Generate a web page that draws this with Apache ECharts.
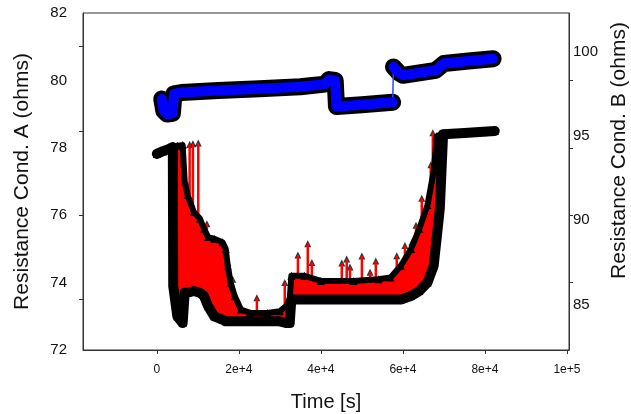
<!DOCTYPE html>
<html>
<head>
<meta charset="utf-8">
<title>Resistance</title>
<script src="https://cdn.jsdelivr.net/npm/echarts@6/dist/echarts.min.js"></script>
<style>
  html, body { margin: 0; padding: 0; background: #fff; }
  #chart { width: 631px; height: 414px; }
</style>
</head>
<body>
<div id="chart"></div>
<script>
// series A (left axis): time [s], upper and lower envelope of the red band
var aTime = [0, 1500, 3000, 3900, 4000, 5000, 6300, 6800, 7500, 9000, 10500, 11500, 12500, 14000, 16000, 16800, 17300, 18000, 19000, 20500, 22700, 27000, 30000, 31500, 32400, 32800, 36000, 40000, 48000, 54000, 57000, 59500, 62000, 64000, 66000, 67500, 68300, 69000, 69800, 75000, 82400];
var aHigh = [77.82, 77.9, 77.97, 78.02, 78.04, 78.06, 78.08, 77.0, 76.6, 76.1, 75.9, 75.6, 75.35, 75.3, 75.2, 75.0, 74.5, 74.0, 73.6, 73.2, 73.1, 73.1, 73.15, 73.3, 73.5, 74.2, 74.2, 74.05, 74.05, 74.1, 74.15, 74.5, 75.0, 75.6, 76.3, 77.3, 78.35, 78.38, 78.4, 78.44, 78.5];
var aLow  = [77.82, 77.9, 77.97, 78.02, 73.9, 73.0, 72.8, 73.7, 73.7, 73.75, 73.7, 73.6, 73.3, 73.0, 72.9, 72.85, 72.85, 72.85, 72.85, 72.85, 72.85, 72.85, 72.85, 72.8, 72.8, 73.5, 73.5, 73.5, 73.5, 73.5, 73.5, 73.5, 73.6, 73.75, 74.0, 74.5, 75.4, 76.2, 78.4, 78.44, 78.5];

// isolated spikes of series A
var spikeTime = [7100, 8000, 8800, 10100, 12200, 17300, 18500, 24400, 31200, 34400, 36800, 37800, 45100, 46300, 47100, 50000, 52000, 53400, 58500, 60500, 62200, 63200, 64600, 66100, 66800, 67300, 68000];
var spikeBase = [76.6, 76.4, 76.2, 75.9, 75.4, 74.2, 73.7, 73.1, 72.9, 74.1, 74.1, 74.1, 74.1, 74.1, 74.1, 74.1, 74.1, 74.1, 74.3, 74.5, 75.0, 75.2, 75.6, 76.2, 76.6, 77.0, 77.4];
var spikeTop  = [77.0, 78.1, 78.12, 78.14, 75.75, 74.6, 74.1, 73.55, 74.0, 74.82, 75.15, 74.6, 74.58, 74.7, 74.46, 74.79, 74.31, 74.64, 74.8, 75.1, 75.2, 75.7, 76.5, 76.45, 77.5, 78.45, 77.3];

// series B (right axis)
var bTime = [1200, 1700, 2500, 3800, 4200, 6000, 15000, 25000, 35000, 41000, 42000, 43500, 43800, 50000, 57500, 57700, 59000, 60000, 68000, 70000, 76000, 82000];
var bVal  = [97.2, 96.5, 96.3, 96.35, 97.5, 97.58, 97.7, 97.8, 97.92, 98.08, 98.35, 98.3, 96.75, 96.85, 97.0, 99.1, 98.75, 98.6, 98.9, 99.3, 99.45, 99.58];
var bJumpAfter = 57500;   // thin connecting segment only

// ticks and labels
var xTicks = [0, 20000, 40000, 60000, 80000, 100000];
var xTickLabels = ['0', '2e+4', '4e+4', '6e+4', '8e+4', '1e+5'];
var yLeftLabels = [72, 74, 76, 78, 80, 82];
var yLeftTicks = [73.5, 76, 78.5, 81];
var yRightLabels = [85, 90, 95, 100];
var yRightTicks = [86.3, 90.3, 94.3, 98.3];

function pairs(t, v) {
  var out = [];
  for (var i = 0; i < t.length; i++) out.push([t[i], v[i]]);
  return out;
}

var spikeLines = [];
for (var i = 0; i < spikeTime.length; i++) {
  spikeLines.push([spikeTime[i], spikeBase[i]]);
  spikeLines.push([spikeTime[i], spikeTop[i]]);
  spikeLines.push([spikeTime[i], '-']);
}

var bThick = [];
for (var i = 0; i < bTime.length; i++) {
  bThick.push([bTime[i], bVal[i]]);
  if (bTime[i] === bJumpAfter) bThick.push([bTime[i], '-']);
}

// red band between the envelopes, one polygon through the axis scales
function renderBand(params, api) {
  var pts = [];
  for (var i = 0; i < aTime.length; i++) pts.push(api.coord([aTime[i], aHigh[i]]));
  for (var j = aTime.length - 1; j >= 0; j--) pts.push(api.coord([aTime[j], aLow[j]]));
  return { type: 'polygon', shape: { points: pts }, style: { fill: '#ff0000' } };
}

var axisColor = '#333';
var font = 'Liberation Sans, Arial, sans-serif';

var chart = echarts.init(document.getElementById('chart'));
var option = {
  animation: false,
  grid: {
    left: 83, right: 62, top: 13, bottom: 64,
    show: true, borderColor: axisColor, borderWidth: 1, z: 10,
    outerBoundsMode: 'none'
  },
  xAxis: {
    type: 'value', z: 10,
    min: -18000, max: 100500,
    splitLine: { show: false },
    axisLine: { onZero: false, lineStyle: { color: axisColor } },
    axisTick: { show: true, customValues: xTicks, length: 4, lineStyle: { color: axisColor } },
    axisLabel: {
      customValues: xTicks, margin: 14, fontSize: 12, color: '#111', fontFamily: font,
      formatter: function (v) { return xTickLabels[xTicks.indexOf(v)]; }
    },
    name: 'Time [s]', nameLocation: 'middle', nameGap: 42,
    nameTextStyle: { fontSize: 20, color: '#111', fontFamily: font }
  },
  yAxis: [{
    type: 'value', position: 'left', z: 10,
    min: 72, max: 82,
    splitLine: { show: false },
    axisLine: { show: true, onZero: false, lineStyle: { color: axisColor } },
    axisTick: { show: true, customValues: yLeftTicks, length: 4, lineStyle: { color: axisColor } },
    axisLabel: { customValues: yLeftLabels, margin: 16, fontSize: 15, color: '#111', fontFamily: font },
    name: 'Resistance Cond. A (ohms)', nameLocation: 'middle', nameGap: 50, nameRotate: 90,
    nameTextStyle: { fontSize: 21, color: '#111', fontFamily: font }
  }, {
    type: 'value', position: 'right', z: 10,
    min: 82.3, max: 102.3,
    splitLine: { show: false },
    axisLine: { show: true, onZero: false, lineStyle: { color: axisColor } },
    axisTick: { show: true, customValues: yRightTicks, length: 4, lineStyle: { color: axisColor } },
    axisLabel: { customValues: yRightLabels, margin: 4, fontSize: 15, color: '#111', fontFamily: font },
    name: 'Resistance Cond. B (ohms)', nameLocation: 'middle', nameGap: 36, nameRotate: 90,
    nameTextStyle: { fontSize: 21, color: '#111', fontFamily: font, padding: [0, 0, 0, 62] }
  }],
  series: [
    { name: 'A band', type: 'custom', renderItem: renderBand, data: [[aTime[0], aLow[0]]], silent: true },
    { name: 'A spikes', type: 'line', data: spikeLines, symbol: 'none', connectNulls: false,
      lineStyle: { color: '#ff0000', width: 2.5 } },
    { name: 'A lower', type: 'line', data: pairs(aTime, aLow), symbol: 'triangle', symbolSize: 8,
      showSymbol: true, itemStyle: { color: '#000' },
      lineStyle: { color: '#000', width: 10, join: 'round', cap: 'round' } },
    { name: 'A upper', type: 'line', data: pairs(aTime, aHigh), symbol: 'triangle', symbolSize: 8,
      showSymbol: true, itemStyle: { color: '#000' },
      lineStyle: { color: '#000', width: 6, join: 'round', cap: 'round' } },
    { name: 'A spike tops', type: 'scatter', data: pairs(spikeTime, spikeTop), symbol: 'triangle',
      symbolSize: 7, itemStyle: { color: '#000' } },
    { name: 'B outline', type: 'line', yAxisIndex: 1, data: bThick, symbol: 'none', connectNulls: false,
      lineStyle: { color: '#000', width: 17, join: 'round', cap: 'round' } },
    { name: 'B', type: 'line', yAxisIndex: 1, data: pairs(bTime, bVal), symbol: 'none',
      lineStyle: { color: '#3344ff', width: 1.5 } },
    { name: 'B fill', type: 'line', yAxisIndex: 1, data: bThick, symbol: 'none', connectNulls: false,
      lineStyle: { color: '#0000ff', width: 10, join: 'round', cap: 'round' } }
  ]
};
chart.setOption(option);
</script>
</body>
</html>
